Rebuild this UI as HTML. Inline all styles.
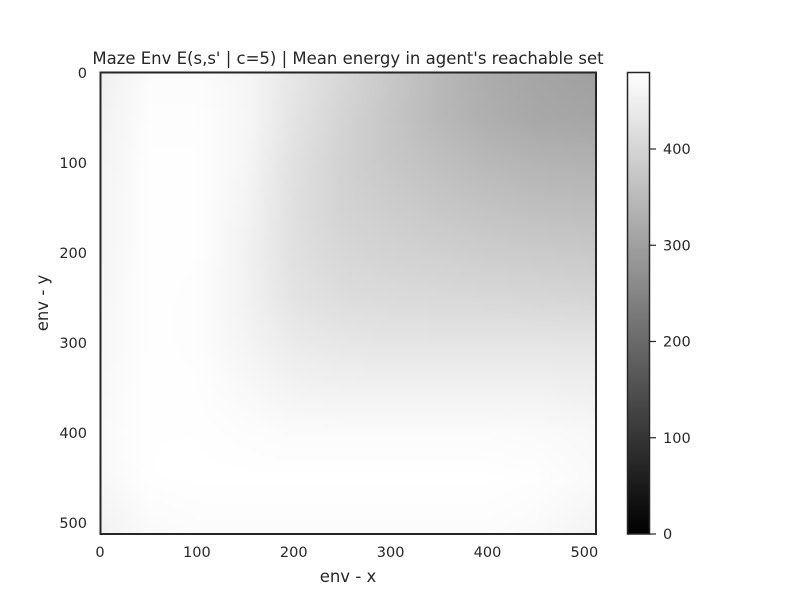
<!DOCTYPE html>
<html><head><meta charset="utf-8"><style>
body{margin:0;background:#fff;width:800px;height:600px;overflow:hidden;font-family:"DejaVu Sans","Liberation Sans",sans-serif;}
svg text{fill:#262626;font-size:14.5px;font-family:"DejaVu Sans","Liberation Sans",sans-serif;}
</style></head><body>
<div style="position:relative;width:800px;height:600px;">
<canvas id="hm" width="124" height="116" style="position:absolute;left:101px;top:73px;width:495px;height:461px;image-rendering:auto;"></canvas>
<svg id="svg" width="800" height="600" style="position:absolute;left:0;top:0;">
<defs><linearGradient id="cg" x1="0" y1="1" x2="0" y2="0"><stop offset="0" stop-color="#000"/><stop offset="1" stop-color="#fff"/></linearGradient></defs>
<text x="348" y="64" text-anchor="middle" style="font-size:16.5px">Maze Env E(s,s' | c=5) | Mean energy in agent's reachable set</text>
<rect x="100.5" y="72.5" width="495.5" height="461.5" fill="none" stroke="#262626" stroke-width="2"/>
<g id="xt"></g>
<g id="yt"></g>
<text x="348" y="582" text-anchor="middle" style="font-size:16.5px">env - x</text>
<text transform="translate(48,303) rotate(-90)" text-anchor="middle" style="font-size:16.5px">env - y</text>
<rect x="627.5" y="72.5" width="22" height="461.5" fill="url(#cg)" stroke="#262626" stroke-width="1.5"/>
<g id="ct"></g>
</svg>
</div>
<script>
const xCoords=[0,50,100,150,200,250,300,350,400,450,512];
const yCoords=[0,50,100,150,200,250,300,350,400,450,512];
const energyRows=[
[450,474,474,463,433,405,376,348,324,311,301],
[455,476,476,465,429,399,373,348,329,316,311],
[458,478,478,463,423,395,376,361,348,339,335],
[460,478,478,459,420,397,386,375,367,360,356],
[461,478,478,455,422,405,397,392,386,382,378],
[463,479,476,456,428,416,412,409,407,405,401],
[465,479,476,460,442,435,431,431,431,431,431],
[467,479,478,468,457,454,454,454,454,454,450],
[469,479,479,476,473,473,473,473,473,471,467],
[466,479,480,480,480,480,480,480,480,478,470],
[455,470,474,474,474,474,474,474,474,470,458]
];
const xTicks=[0,100,200,300,400,500];
const yTicks=[0,100,200,300,400,500];
const cTicks=[0,100,200,300,400];
const vmax=480;
const sx=v=>100+v*496/512, sy=v=>73+v*461/512, sc=v=>534-v*462/vmax;
const cv=document.getElementById('hm'),c=cv.getContext('2d');
const W=cv.width,H=cv.height;
function seg(arr,v){let i=0;while(i<arr.length-2&&v>arr[i+1])i++;const t=Math.max(0,Math.min(1,(v-arr[i])/(arr[i+1]-arr[i])));return [i,t];}
const img=c.createImageData(W,H);
for(let py=0;py<H;py++){const yv=(py+0.5)/H*512;const [j,ty]=seg(yCoords,yv);
for(let px=0;px<W;px++){const xv=(px+0.5)/W*512;const [i,tx]=seg(xCoords,xv);
const v=(energyRows[j][i]*(1-tx)+energyRows[j][i+1]*tx)*(1-ty)+(energyRows[j+1][i]*(1-tx)+energyRows[j+1][i+1]*tx)*ty;
const g=Math.round(Math.max(0,Math.min(1,v/vmax))*255);const k=(py*W+px)*4;img.data[k]=img.data[k+1]=img.data[k+2]=g;img.data[k+3]=255;}}
c.putImageData(img,0,0);
const NS='http://www.w3.org/2000/svg';
function mk(tag,attrs,parent,txt){const e=document.createElementNS(NS,tag);for(const k in attrs)e.setAttribute(k,attrs[k]);if(txt!==undefined)e.textContent=txt;parent.appendChild(e);return e;}
const xt=document.getElementById('xt'),yt=document.getElementById('yt'),ct=document.getElementById('ct');
xTicks.forEach(t=>{const e=mk('text',{x:sx(t),y:557,'text-anchor':'middle'},xt,t);

});
yTicks.forEach(t=>{const e=mk('text',{x:87,y:sy(t)+5,'text-anchor':'end'},yt,t);

});
cTicks.forEach(t=>{const y=sc(t);const l=mk('line',{x1:650,x2:656,y1:y,y2:y,stroke:'#262626','stroke-width':1.2},ct);


const e=mk('text',{x:663,y:y+5},ct,t);

});
</script>
</body></html>
